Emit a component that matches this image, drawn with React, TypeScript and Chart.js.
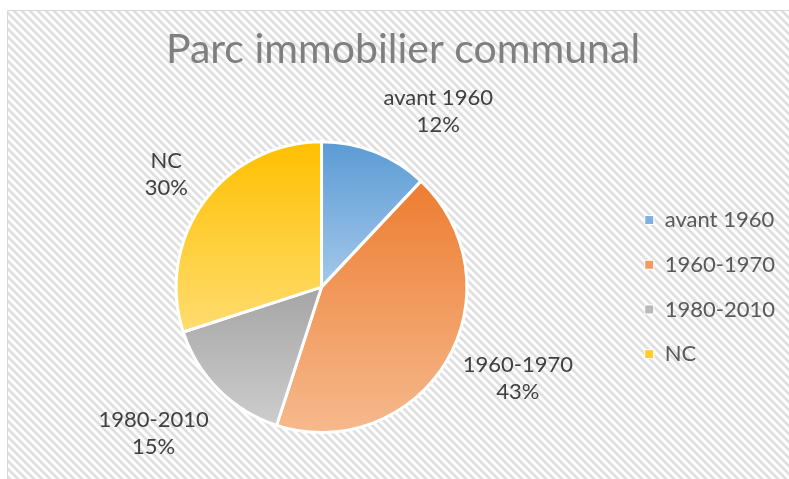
import React, { useEffect, useRef } from "react";
import { Chart, registerables } from "chart.js";

Chart.register(...registerables);

const categories = ["avant 1960", "1960-1970", "1980-2010", "NC"];
const values = [12, 43, 15, 30];
const percentLabels = ["12%", "43%", "15%", "30%"];
const titleText = "Parc immobilier communal";

const topColors = ["#5B9BD5", "#ED7D31", "#A5A5A5", "#FFC000"];
const bottomColors = ["#A4C8EA", "#F6B98D", "#CDCDCD", "#FFDC70"];
const legendColors = ["#7FB1E0", "#F29B60", "#B9B9B9", "#FFCB33"];

// label placement relative to each slice (radius factor, angle shift in degrees)
const labelRadius = [1.45, 1.49, 1.53, 1.32];
const labelAngleShift = [12, -5.6, 4, 0];

const FONT = "Lato, 'Open Sans', sans-serif";
const CANVAS_W = 830;
const CANVAS_H = 479;

function makePattern(ctx: CanvasRenderingContext2D) {
  const c = document.createElement("canvas");
  c.width = 8;
  c.height = 8;
  const p = c.getContext("2d")!;
  const shades = ["#ffffff", "#f1f1f1", "#e1e1e1", "#dddddd", "#e1e1e1", "#f1f1f1", "#ffffff", "#ffffff"];
  for (let y = 0; y < 8; y++) {
    for (let x = 0; x < 8; x++) {
      const k = (((x - y) % 8) + 8) % 8;
      p.fillStyle = shades[k];
      p.fillRect(x, y, 1, 1);
    }
  }
  return ctx.createPattern(c, "repeat");
}

const backgroundPlugin = {
  id: "bgPattern",
  beforeDraw(chart: any) {
    const ctx = chart.ctx as CanvasRenderingContext2D;
    ctx.save();
    ctx.fillStyle = "#ffffff";
    ctx.fillRect(0, 0, chart.width, chart.height);
    const pat = makePattern(ctx);
    if (pat) {
      ctx.fillStyle = pat;
      ctx.fillRect(8, 11, chart.width, chart.height);
    }
    ctx.strokeStyle = "#d9d9d9";
    ctx.lineWidth = 1;
    ctx.beginPath();
    ctx.moveTo(7.5, chart.height + 5);
    ctx.lineTo(7.5, 10.5);
    ctx.lineTo(chart.width + 5, 10.5);
    ctx.stroke();
    ctx.restore();
  },
};

const labelPlugin = {
  id: "sliceLabels",
  afterDatasetsDraw(chart: any) {
    const ctx = chart.ctx as CanvasRenderingContext2D;
    const meta = chart.getDatasetMeta(0);
    ctx.save();
    ctx.font = `22px ${FONT}`;
    ctx.fillStyle = "#404040";
    ctx.textAlign = "center";
    ctx.textBaseline = "middle";
    meta.data.forEach((arc: any, i: number) => {
      const mid = (arc.startAngle + arc.endAngle) / 2 + (labelAngleShift[i] * Math.PI) / 180;
      const d = arc.outerRadius * labelRadius[i];
      const cx = arc.x + Math.cos(mid) * d;
      const cy = arc.y + Math.sin(mid) * d;
      ctx.fillText(categories[i], cx, cy - 13.5);
      ctx.fillText(percentLabels[i], cx, cy + 13.5);
    });
    ctx.restore();
  },
};

function sliceGradient(context: any) {
  const i = context.dataIndex;
  const el = context.element;
  if (!el || !el.outerRadius || !isFinite(el.outerRadius) || el.x == null) return topColors[i];
  const { x, y, startAngle, endAngle, outerRadius } = el;
  let minY = y;
  let maxY = y;
  const consider = (a: number) => {
    const py = y + Math.sin(a) * outerRadius;
    minY = Math.min(minY, py);
    maxY = Math.max(maxY, py);
  };
  consider(startAngle);
  consider(endAngle);
  for (let k = -8; k <= 8; k++) {
    const a = (k * Math.PI) / 2;
    if (a > startAngle && a < endAngle) consider(a);
  }
  const g = context.chart.ctx.createLinearGradient(0, minY, 0, maxY);
  g.addColorStop(0, topColors[i]);
  g.addColorStop(1, bottomColors[i]);
  return g;
}

export default function App() {
  const canvasRef = useRef<HTMLCanvasElement | null>(null);

  useEffect(() => {
    if (!canvasRef.current) return;
    const chart = new Chart(canvasRef.current, {
      type: "pie",
      data: {
        labels: categories,
        datasets: [
          {
            data: values,
            backgroundColor: sliceGradient as any,
            borderColor: "#ffffff",
            borderWidth: 3,
          },
        ],
      },
      options: {
        responsive: false,
        animation: false,
        layout: { padding: { top: 10, left: 21, right: 45, bottom: 45 } },
        plugins: {
          title: {
            display: true,
            text: titleText,
            color: "#7f7f7f",
            font: { family: FONT, size: 41, weight: "normal" as any },
            padding: { top: 15, bottom: 66 },
          },
          legend: {
            display: true,
            position: "right",
            fullSize: false,
            labels: {
              font: { family: FONT, size: 22 },
              color: "#595959",
              boxWidth: 9,
              boxHeight: 9,
              padding: 22.7,
              generateLabels: () =>
                categories.map((c, i) => ({
                  text: c,
                  fillStyle: legendColors[i],
                  strokeStyle: "#ffffff",
                  lineWidth: 1,
                  hidden: false,
                  index: i,
                  fontColor: "#595959",
                })),
            },
          },
          tooltip: { enabled: false },
        },
      },
      plugins: [backgroundPlugin, labelPlugin],
    });
    chart.update();
    return () => chart.destroy();
  }, []);

  return (
    <div
      style={{
        position: "fixed",
        left: 0,
        top: 0,
        width: 789,
        height: 479,
        overflow: "hidden",
        background: "#ffffff",
      }}
    >
      <canvas ref={canvasRef} width={CANVAS_W} height={CANVAS_H} style={{ display: "block" }} />
    </div>
  );
}
